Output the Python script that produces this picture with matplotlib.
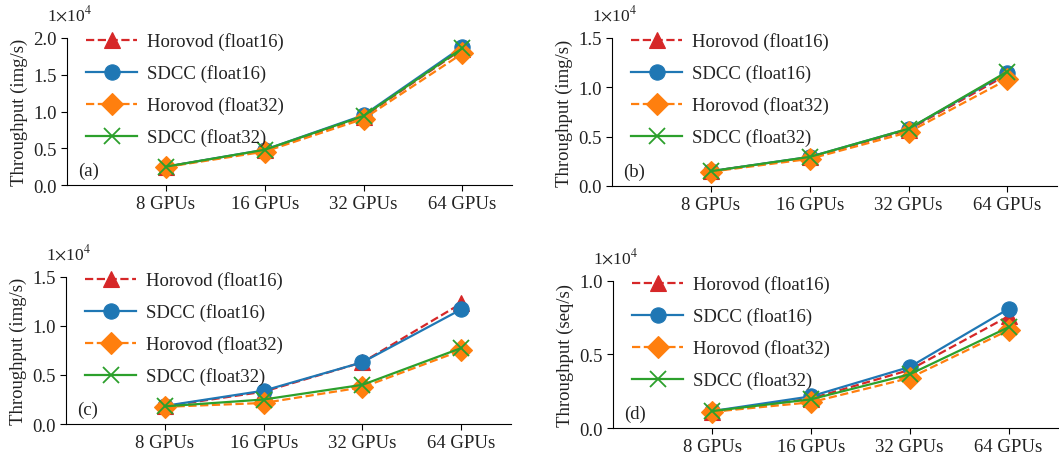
import matplotlib
matplotlib.use("Agg")
import matplotlib.pyplot as plt
from matplotlib.ticker import FuncFormatter, MultipleLocator

plt.rcParams['font.family'] = ['Liberation Serif', 'DejaVu Serif']
plt.rcParams['mathtext.fontset'] = 'stix'
plt.rcParams['text.color'] = '#222222'
plt.rcParams['xtick.labelcolor'] = '#222222'
plt.rcParams['ytick.labelcolor'] = '#222222'
plt.rcParams['axes.labelcolor'] = '#222222'

categories = ["8 GPUs", "16 GPUs", "32 GPUs", "64 GPUs"]
series_names = ["Horovod (float16)", "SDCC (float16)", "Horovod (float32)", "SDCC (float32)"]

# panel (a) img/s
a_hvd16 = [2500, 4700, 9300, 18500]
a_sdcc16 = [2500, 4800, 9500, 18800]
a_hvd32 = [2450, 4550, 9000, 17900]
a_sdcc32 = [2500, 4800, 9400, 18600]
# panel (b) img/s
b_hvd16 = [1500, 2900, 5700, 11300]
b_sdcc16 = [1500, 2950, 5800, 11500]
b_hvd32 = [1450, 2750, 5450, 10800]
b_sdcc32 = [1500, 2950, 5800, 11600]
# panel (c) img/s
c_hvd16 = [1800, 3300, 6300, 12300]
c_sdcc16 = [1850, 3400, 6300, 11700]
c_hvd32 = [1750, 2150, 3750, 7500]
c_sdcc32 = [1800, 2500, 4000, 7750]
# panel (d) seq/s
d_hvd16 = [1100, 2000, 3950, 7600]
d_sdcc16 = [1150, 2150, 4150, 8100]
d_hvd32 = [1100, 1750, 3400, 6650]
d_sdcc32 = [1150, 1950, 3650, 6850]

panels = [
    ("(a)", "Throughput (img/s)", 2.0e4, [a_hvd16, a_sdcc16, a_hvd32, a_sdcc32]),
    ("(b)", "Throughput (img/s)", 1.5e4, [b_hvd16, b_sdcc16, b_hvd32, b_sdcc32]),
    ("(c)", "Throughput (img/s)", 1.5e4, [c_hvd16, c_sdcc16, c_hvd32, c_sdcc32]),
    ("(d)", "Throughput (seq/s)", 1.0e4, [d_hvd16, d_sdcc16, d_hvd32, d_sdcc32]),
]

styles = [
    dict(color="#d62728", linestyle="--", marker="^"),
    dict(color="#1f77b4", linestyle="-", marker="o"),
    dict(color="#ff7f0e", linestyle="--", marker="D"),
    dict(color="#2ca02c", linestyle="-", marker="x"),
]

rects = [
    [0.0633, 0.599, 0.42, 0.317],
    [0.578, 0.597, 0.42, 0.319],
    [0.0623, 0.084, 0.42, 0.317],
    [0.579, 0.0754, 0.42, 0.317],
]

fig = plt.figure(figsize=(10.59, 4.64), dpi=100)
x = list(range(len(categories)))
for rect, (lab, ylab, ymax, data) in zip(rects, panels):
    ax = fig.add_axes(rect)
    for name, vals, st in zip(series_names, data, styles):
        ms = 11 if st["marker"] != "x" else 12
        ax.plot(x, vals, label=name, linewidth=1.6, markersize=ms,
                markeredgewidth=1.3 if st["marker"] == "x" else 0.8, **st)
    ax.set_xlim(-1, 3.5)
    ax.set_ylim(0, ymax)
    ax.set_xticks(x)
    ax.set_xticklabels(categories)
    ax.yaxis.set_major_locator(MultipleLocator(5000))
    ax.yaxis.set_major_formatter(FuncFormatter(lambda v, p: f"{v/1e4:.1f}"))
    for s in ["top", "right"]:
        ax.spines[s].set_visible(False)
    ax.tick_params(labelsize=13.5, direction="out", length=4)
    ax.set_ylabel(ylab, fontsize=13.5)
    ax.text(0.005, 1.16, r"1$\times$10$^{4}$", transform=ax.transAxes,
            ha="center", va="center", fontsize=12.5)
    ax.text(0.025, 0.1, lab, transform=ax.transAxes, ha="left", va="center",
            fontsize=13.5)
    ax.legend(loc="upper left", bbox_to_anchor=(0.018, 1.115), frameon=False,
              fontsize=13.5, handlelength=2.7, labelspacing=0.75,
              handletextpad=0.55, borderaxespad=0.2)

fig.savefig("out.png", dpi=100)
